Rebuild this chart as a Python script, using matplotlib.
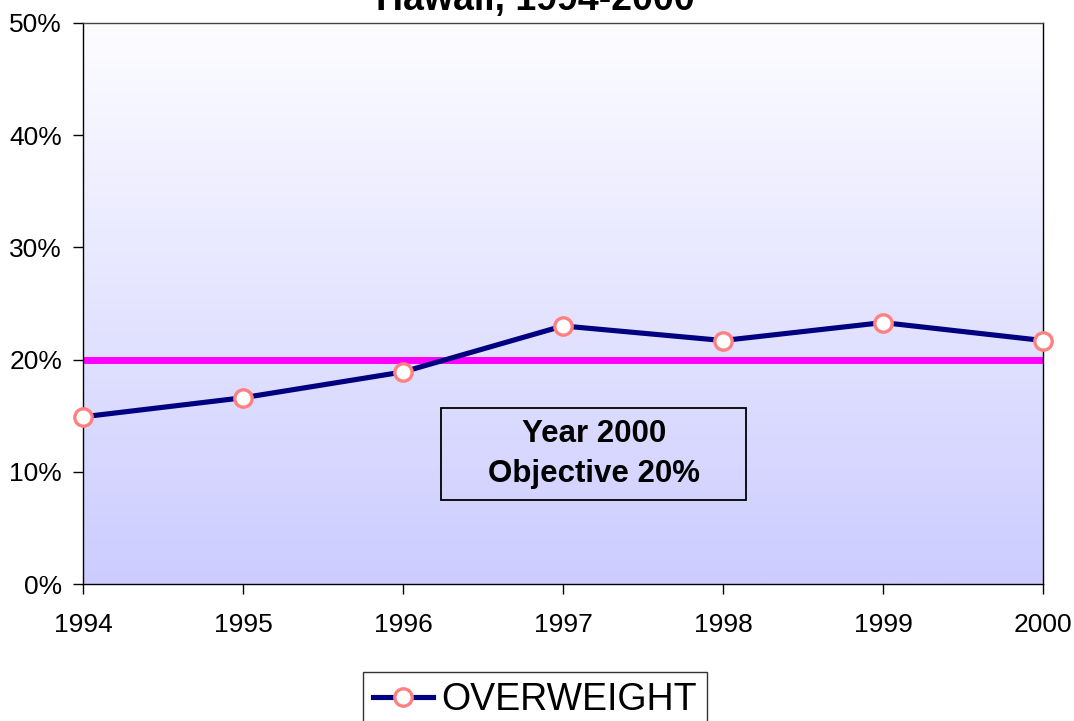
import numpy as np
import matplotlib.pyplot as plt
from matplotlib.colors import LinearSegmentedColormap
from matplotlib.patches import Rectangle

plt.rcParams['font.family'] = ['Liberation Sans', 'DejaVu Sans']

years = [1994, 1995, 1996, 1997, 1998, 1999, 2000]
overweight = [14.9, 16.6, 18.9, 23.0, 21.7, 23.3, 21.7]
objective = 20
yticks = [0, 10, 20, 30, 40, 50]

fig = plt.figure(figsize=(10.74, 7.21), dpi=100)
ax = fig.add_axes([83/1074, 1-584/721, 960/1074, 561/721])

# gradient background, white at top to lavender at bottom
cmap = LinearSegmentedColormap.from_list('bg', ['#ccccff', '#fdfdff'])
grad = np.linspace(0, 1, 256).reshape(-1, 1)
ax.imshow(grad, cmap=cmap, aspect='auto', origin='lower',
          extent=[years[0], years[-1], 0, 50], zorder=0)

ax.plot([years[0], years[-1]], [objective, objective], color='#ff00ff',
        lw=5, solid_capstyle='round', zorder=2)
ax.plot(years, overweight, color='#000080', lw=3.7, marker='o', ms=12.5,
        mfc='white', mec='#ff8080', mew=2.4, label='OVERWEIGHT', zorder=3,
        clip_on=False)

ax.set_xlim(years[0], years[-1])
ax.set_ylim(0, 50)
ax.set_xticks(years)
ax.set_yticks(yticks)
ax.set_yticklabels(['%d%%' % v for v in yticks])
ax.tick_params(labelsize=19, length=7, width=1, color='black', direction='out')
ax.tick_params(axis='x', pad=14)
ax.tick_params(axis='y', pad=8)
for s in ax.spines.values():
    s.set_color('black')
    s.set_linewidth(1)
ax.spines['top'].set_color('#444444')

# objective label box
ax.text(0.532, 0.232, 'Year 2000\nObjective 20%', transform=ax.transAxes,
        ha='center', va='center', fontsize=22.5, fontweight='bold',
        linespacing=1.45)
fig.patches.append(Rectangle((441/1074, 1-500/721), 305/1074, 92/721,
                             transform=fig.transFigure, fill=False,
                             ec='black', lw=1.3, zorder=5))

fig.text(0.498, 1.0, 'Hawaii, 1994-2000', ha='center', va='center',
         fontsize=27, fontweight='bold')

leg = fig.legend(loc='upper center', bbox_to_anchor=(535/1074, 1-672/721),
                 fontsize=27, frameon=True, fancybox=False, edgecolor='black',
                 handlelength=1.6, handletextpad=0.2, borderpad=0.27,
                 borderaxespad=0)
leg.get_frame().set_linewidth(1)

fig.savefig('out.png', dpi=100)
